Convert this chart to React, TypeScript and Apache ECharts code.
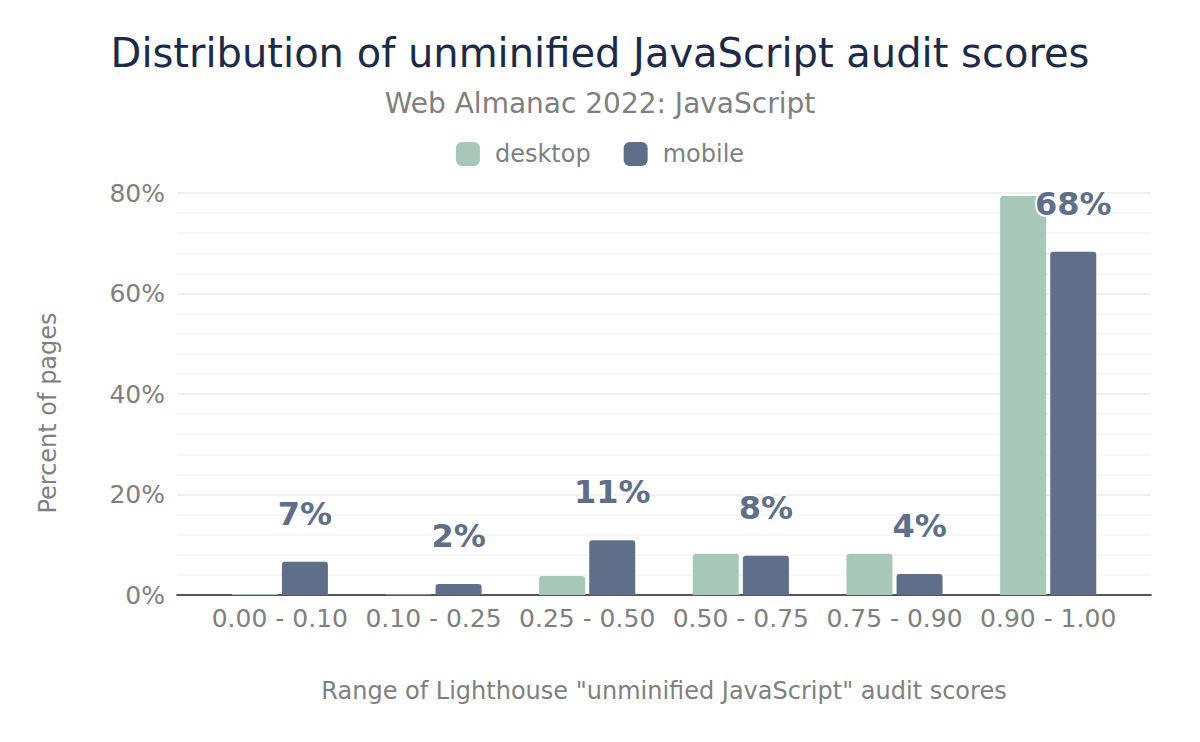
import React, { useEffect, useRef } from "react";
import * as echarts from "echarts";

const categories = ["0.00 - 0.10", "0.10 - 0.25", "0.25 - 0.50", "0.50 - 0.75", "0.75 - 0.90", "0.90 - 1.00"];
const desktopValues = [0.2, 0.1, 3.8, 8.2, 8.2, 79.4];
const mobileValues = [6.6, 2.2, 10.9, 7.8, 4.2, 68.3];
const yTicks = [0, 20, 40, 60, 80];

const FONT = "DejaVu Sans";
const DESKTOP = "#a7c8b8";
const MOBILE = "#5f6f89";
const GRAY = "#7f7f7f";

export default function App() {
  const ref = useRef<HTMLDivElement>(null);
  useEffect(() => {
    if (!ref.current) return;
    const chart = echarts.init(ref.current, null, { renderer: "svg" });
    const yMax = yTicks[yTicks.length - 1];
    chart.setOption({
      animation: false,
      backgroundColor: "#ffffff",
      textStyle: { fontFamily: FONT },
      title: {
        text: "Distribution of unminified JavaScript audit scores",
        subtext: "Web Almanac 2022: JavaScript",
        left: "center",
        top: 28,
        itemGap: 16,
        textStyle: { fontFamily: FONT, fontSize: 40, fontWeight: "normal", color: "#1b2a46" },
        subtextStyle: { fontFamily: FONT, fontSize: 28, color: GRAY },
      },
      legend: {
        top: 137,
        left: "center",
        itemWidth: 24,
        itemHeight: 24,
        itemGap: 33,
        icon: "roundRect",
        textStyle: { fontFamily: FONT, fontSize: 24, color: GRAY, padding: [0, 0, 0, 10] },
        data: ["desktop", "mobile"],
      },
      graphic: [
        {
          type: "text",
          x: 48,
          y: 413,
          rotation: Math.PI / 2,
          style: {
            text: "Percent of pages",
            font: `24px "${FONT}"`,
            fill: GRAY,
            align: "center",
            verticalAlign: "middle",
          },
        },
      ],
      grid: [
        { left: 177, right: 49, top: 193, bottom: 147 },
        { left: 203, right: 75, top: 193, bottom: 147 },
      ],
      xAxis: [
        {
          type: "category",
          gridIndex: 0,
          data: categories,
          axisLine: { show: true, lineStyle: { color: "#222222", width: 1.5 } },
          axisTick: { show: false },
          axisLabel: { show: false },
          name: 'Range of Lighthouse "unminified JavaScript" audit scores',
          nameLocation: "middle",
          nameGap: 84,
          nameTextStyle: { fontFamily: FONT, fontSize: 24, color: GRAY },
        },
        {
          type: "category",
          gridIndex: 1,
          data: categories,
          axisLine: { show: false },
          axisTick: { show: false },
          axisLabel: { interval: 0, fontFamily: FONT, fontSize: 25, color: GRAY, margin: 11 },
        },
      ],
      yAxis: [
        {
          type: "value",
          gridIndex: 0,
          min: 0,
          max: yMax,
          interval: 20,
          axisLine: { show: false },
          axisTick: { show: false },
          axisLabel: { fontFamily: FONT, fontSize: 25, color: GRAY, margin: 12, formatter: "{value}%" },
          splitLine: { show: true, lineStyle: { color: "#ebebeb", width: 1.5 } },
          minorTick: { show: false, splitNumber: 5 },
          minorSplitLine: { show: true, lineStyle: { color: "#f5f5f5", width: 1.5 } },
        },
        {
          type: "value",
          gridIndex: 1,
          min: 0,
          max: yMax,
          interval: 20,
          show: false,
          splitLine: { show: false },
        },
      ],
      series: [
        {
          name: "desktop",
          type: "bar",
          xAxisIndex: 1,
          yAxisIndex: 1,
          data: desktopValues,
          barWidth: 46,
          barGap: "9%",
          itemStyle: { color: DESKTOP, borderRadius: [3, 3, 0, 0] },
        },
        {
          name: "mobile",
          type: "bar",
          xAxisIndex: 1,
          yAxisIndex: 1,
          data: mobileValues,
          barWidth: 46,
          barGap: "9%",
          itemStyle: { color: MOBILE, borderRadius: [3, 3, 0, 0] },
          label: {
            show: true,
            position: "top",
            distance: 32,
            formatter: (p: any) => Math.round(p.value) + "%",
            fontFamily: FONT,
            fontSize: 32,
            fontWeight: "bold",
            color: MOBILE,
            textBorderColor: "#ffffff",
            textBorderWidth: 4,
          },
        },
      ],
    });
    return () => chart.dispose();
  }, []);
  return <div ref={ref} style={{ position: "fixed", left: 0, top: 0, width: 1200, height: 742 }} />;
}
